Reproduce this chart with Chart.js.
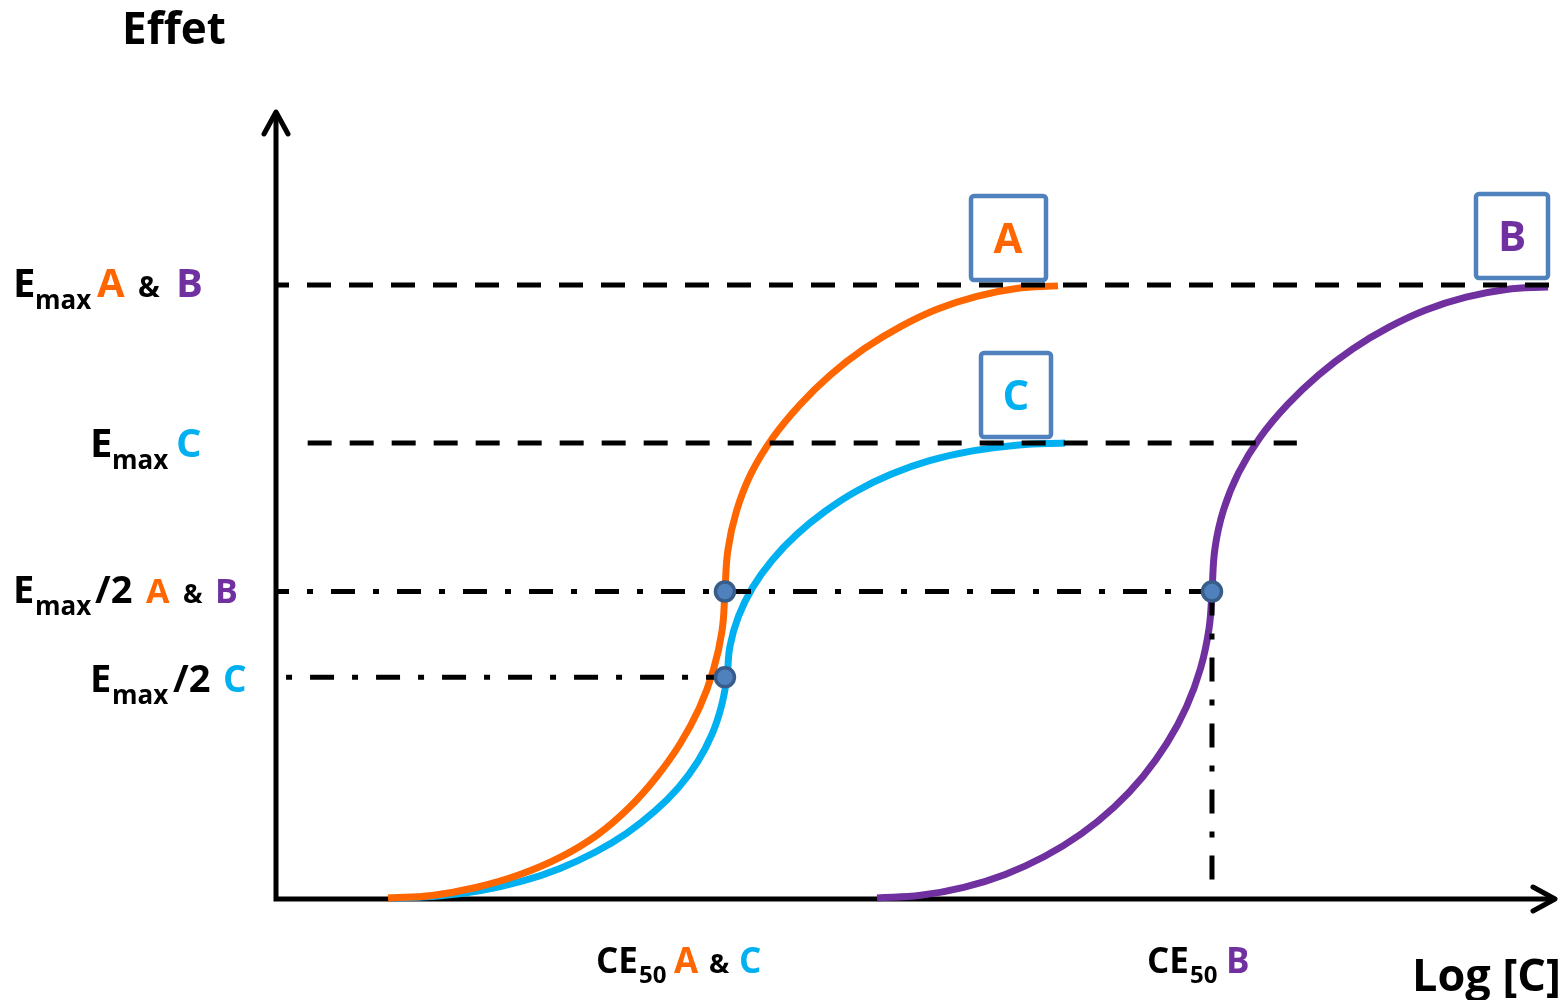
<!DOCTYPE html>
<html>
<head>
<meta charset="utf-8">
<script src="https://cdn.jsdelivr.net/npm/chart.js@4.4.1/dist/chart.umd.min.js"></script>
<style>
  html, body { margin: 0; padding: 0; background: #ffffff; }
  #wrap { width: 1568px; height: 1000px; position: relative; }
</style>
</head>
<body>
<div id="wrap"><canvas id="c"></canvas></div>
<script>
// ---------- data (x = Log[C], arbitrary units 0..100 ; y = Effet, Emax = 100) ----------
const xMax = 100;
const yMax = 128.2;

// Curve A (orange)
const A_x = [8.69, 12.13, 15.57, 19.01, 22.26, 25.12, 27.54, 29.66, 31.53, 33.05, 34.15, 34.83, 35.05, 35.28, 35.95, 37.09, 38.78, 40.91, 43.31, 45.95, 48.79, 51.69, 54.76, 57.86, 61.11];
const A_y = [0, 0.42, 1.71, 3.82, 6.74, 10.38, 14.71, 19.66, 25.12, 31.01, 37.24, 43.69, 50.0, 56.72, 63.08, 69.22, 75.04, 80.44, 85.32, 89.59, 93.20, 96.07, 98.14, 99.41, 99.84];

// Curve C (blue)
const C_x = [9.23, 12.62, 15.95, 19.18, 22.14, 24.88, 27.35, 29.54, 31.42, 32.92, 34.04, 34.78, 35.21, 35.44, 36.11, 37.22, 38.76, 40.67, 42.88, 45.32, 48.04, 51.06, 54.42, 58.05, 61.66];
const C_y = [0, 0.31, 1.22, 2.74, 4.83, 7.46, 10.55, 14.11, 18.03, 22.25, 26.72, 31.35, 36.05, 41.03, 45.94, 50.67, 55.14, 59.30, 63.05, 66.35, 69.10, 71.32, 72.92, 73.90, 74.2];

// Curve B (purple)
const B_x = [46.95, 50.37, 53.73, 56.98, 60.05, 62.91, 65.49, 67.75, 69.65, 71.17, 72.27, 72.93, 73.16, 73.39, 74.06, 75.24, 76.92, 79.06, 81.49, 84.15, 87.01, 89.94, 93.04, 96.18, 99.45];
const B_y = [0, 0.44, 1.73, 3.85, 6.77, 10.44, 14.81, 19.79, 25.29, 31.22, 37.49, 43.96, 50.0, 56.98, 63.28, 69.36, 75.12, 80.47, 85.29, 89.53, 93.10, 95.94, 97.99, 99.25, 99.67];

// Reference levels
const emaxLevels = [100, 74.2];      // Emax A & B, Emax C
const emaxStart  = [0, 2.4];
const emaxEnd    = [99.6, 79.8];
const halfLevels = [50, 36];         // Emax/2 A & B, Emax/2 C
const halfStart  = [0, 0.63];
const halfEnd    = [73.16, 35.05];
const ce50X      = [35.05, 35.05, 73.16];   // CE50 points (A, C, B)
const ce50Y      = [50, 36, 50];
const vertBottom = 2.9;

// ---------- colours ----------
const ORANGE = '#ff6600', BLUE = '#00b0f0', PURPLE = '#7030a0', BOXBLUE = '#4f81bd';

const pts = (xs, ys) => xs.map((x, i) => ({ x: x, y: ys[i] }));

function curve(xs, ys, color) {
  return { type: 'scatter', data: pts(xs, ys), showLine: true, borderColor: color, borderWidth: 7,
           pointRadius: 0, pointHoverRadius: 0, tension: 0.4, cubicInterpolationMode: 'default',
           fill: false, clip: false, order: 3 };
}
function refLine(data, dash, offset) {
  return { type: 'scatter', data: data, showLine: true, borderColor: '#000', borderWidth: 5,
           borderDash: dash, borderDashOffset: offset, pointRadius: 0, pointHoverRadius: 0,
           tension: 0, fill: false, clip: false, order: 2 };
}
const DASH = [24, 18];
const DASHDOT = [24, 18, 6, 18];

const datasets = [
  { type: 'scatter', data: pts(ce50X, ce50Y), pointRadius: 9.5, pointHoverRadius: 9.5,
    pointBackgroundColor: '#4f81bd', pointBorderColor: '#385d8a', pointBorderWidth: 3.5,
    showLine: false, clip: false, order: 0 },
  refLine([{ x: emaxStart[0], y: emaxLevels[0] }, { x: emaxEnd[0], y: emaxLevels[0] }], DASH, 12),
  refLine([{ x: emaxStart[1], y: emaxLevels[1] }, { x: emaxEnd[1], y: emaxLevels[1] }], DASH, 0),
  refLine([{ x: halfStart[0], y: halfLevels[0] }, { x: halfEnd[0], y: halfLevels[0] }], DASHDOT, 12),
  refLine([{ x: halfStart[1], y: halfLevels[1] }, { x: halfEnd[1], y: halfLevels[1] }], DASHDOT, 41),
  refLine([{ x: ce50X[2], y: ce50Y[2] }, { x: ce50X[2], y: vertBottom }], DASHDOT, 0),
  curve(A_x, A_y, ORANGE),
  curve(C_x, C_y, BLUE),
  curve(B_x, B_y, PURPLE)
];

const FONT = '"Open Sans", "Lato", "DejaVu Sans", sans-serif';

function txt(ctx, s, x, y, size, color) {
  ctx.font = '700 ' + size + 'px ' + FONT;
  ctx.fillStyle = color || '#000';
  ctx.textAlign = 'left';
  ctx.textBaseline = 'alphabetic';
  ctx.fillText(s, x, y);
}

const decor = {
  id: 'decor',
  beforeDatasetsDraw(chart) {
    const ctx = chart.ctx, xs = chart.scales.x, ys = chart.scales.y;
    ctx.save();
    // boxes
    const boxes = [[971, 196, 75, 84], [1476, 194, 72, 84], [981, 353, 70, 84]];
    ctx.lineWidth = 4.5;
    ctx.strokeStyle = BOXBLUE;
    ctx.fillStyle = '#fff';
    boxes.forEach(b => {
      ctx.beginPath();
      ctx.roundRect(b[0], b[1], b[2], b[3], 3);
      ctx.fill();
      ctx.stroke();
    });
    // axes
    const x0 = xs.getPixelForValue(0) - 1;
    const y0 = ys.getPixelForValue(0) + 1;
    const yTop = ys.getPixelForValue(yMax);
    const xRight = xs.getPixelForValue(xMax);
    ctx.strokeStyle = '#000';
    ctx.lineWidth = 5;
    ctx.lineCap = 'butt';
    ctx.beginPath();
    ctx.moveTo(x0, y0 + 2.5); ctx.lineTo(x0, yTop + 2);
    ctx.moveTo(x0 - 2.5, y0); ctx.lineTo(xRight - 2, y0);
    ctx.stroke();
    ctx.lineCap = 'round'; ctx.lineJoin = 'round'; ctx.lineWidth = 5;
    ctx.beginPath();
    ctx.moveTo(x0 - 12, yTop + 22); ctx.lineTo(x0, yTop); ctx.lineTo(x0 + 12, yTop + 22);
    ctx.moveTo(xRight - 22, y0 - 12); ctx.lineTo(xRight, y0); ctx.lineTo(xRight - 22, y0 + 12);
    ctx.stroke();
    ctx.restore();
  },
  afterDraw(chart) {
    const ctx = chart.ctx;
    ctx.save();
    // title of y axis
    txt(ctx, 'Effet', 122, 44, 44);
    // box letters
    ctx.save();
    ctx.font = '700 42px ' + FONT; ctx.textAlign = 'center'; ctx.textBaseline = 'alphabetic';
    ctx.fillStyle = ORANGE; ctx.fillText('A', 1008, 253);
    ctx.fillStyle = PURPLE; ctx.fillText('B', 1512, 251);
    ctx.fillStyle = BLUE;   ctx.fillText('C', 1016, 410);
    ctx.restore();
    // Emax A & B
    txt(ctx, 'E', 13, 297, 40);
    txt(ctx, 'max', 35, 309, 26);
    txt(ctx, 'A', 97, 297, 40, ORANGE);
    txt(ctx, '&', 138, 297, 29);
    txt(ctx, 'B', 176, 297, 40, PURPLE);
    // Emax C
    txt(ctx, 'E', 90, 457, 40);
    txt(ctx, 'max', 112, 469, 26);
    txt(ctx, 'C', 176, 457, 40, BLUE);
    // Emax/2 A & B
    txt(ctx, 'E', 13, 603, 38);
    txt(ctx, 'max', 35, 615, 26);
    txt(ctx, '/2', 95, 603, 38);
    txt(ctx, 'A', 146, 603, 34, ORANGE);
    txt(ctx, '&', 183, 603, 26);
    txt(ctx, 'B', 215, 603, 34, PURPLE);
    // Emax/2 C
    txt(ctx, 'E', 90, 692, 38);
    txt(ctx, 'max', 112, 704, 26);
    txt(ctx, '/2', 173, 692, 38);
    txt(ctx, 'C', 223, 692, 37, BLUE);
    // CE50 A & C
    txt(ctx, 'CE', 596, 973, 35);
    txt(ctx, '50', 639, 983, 24);
    txt(ctx, 'A', 674, 973, 35, ORANGE);
    txt(ctx, '&', 709, 973, 27);
    txt(ctx, 'C', 739, 973, 35, BLUE);
    // CE50 B
    txt(ctx, 'CE', 1147, 973, 35);
    txt(ctx, '50', 1190, 983, 24);
    txt(ctx, 'B', 1226, 973, 35, PURPLE);
    // x axis title
    txt(ctx, 'Log [C]', 1412, 991, 45);
    ctx.restore();
  }
};

function build() {
  new Chart(document.getElementById('c'), {
    type: 'scatter',
    data: { datasets: datasets },
    options: {
      responsive: true,
      maintainAspectRatio: false,
      animation: false,
      devicePixelRatio: 1,
      layout: { padding: { left: 277, right: 13, top: 112, bottom: 102 } },
      plugins: { legend: { display: false }, tooltip: { enabled: false }, title: { display: false } },
      events: [],
      scales: {
        x: { type: 'linear', min: 0, max: xMax, display: false },
        y: { type: 'linear', min: 0, max: yMax, display: false }
      }
    },
    plugins: [decor]
  });
}

const wait = new Promise(res => setTimeout(res, 800));
Promise.race([
  Promise.all([
    document.fonts.load('700 40px "Open Sans"'),
    document.fonts.load('700 20px "Open Sans"')
  ]),
  wait
]).then(build, build);
</script>
</body>
</html>
